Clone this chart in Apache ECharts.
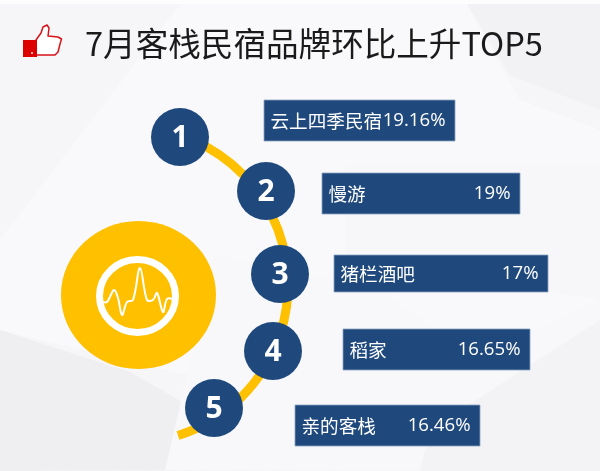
<!DOCTYPE html>
<html><head><meta charset="utf-8">
<style>html,body{margin:0;padding:0;background:#f6f6f8}#c{width:600px;height:471px}</style>
<script src="https://cdn.jsdelivr.net/npm/echarts@6/dist/echarts.min.js"></script>
</head><body><div id="c"></div>
<script>
const chartTitle = '7月客栈民宿品牌环比上升TOP5';
const brands = ['云上四季民宿', '慢游', '猪栏酒吧', '稻家', '亲的客栈'];
const growthPct = [19.16, 19, 17, 16.65, 16.46];
const ranks = [1, 2, 3, 4, 5];

// layout only (pixels), kept apart from the data
const labelBoxes = [[264,100,191,41],[322,173,198,41],[334,255,214,37],[343,329,187,41],[295,405,185,41]];
const badgeCentres = [[180,137],[266,191],[280,274],[273,351],[214,408]];
const NAVY = '#1f497d', GOLD = '#ffc000', CJK = '"Noto Sans CJK SC","Noto Sans",sans-serif';

const bg = (pts, fill) => ({type:'polygon', silent:true, z:-10, shape:{points:pts}, style:{fill}});
const chart = echarts.init(document.getElementById('c'), null, {renderer:'canvas'});
chart.setOption({
  animation:false,
  backgroundColor:'#f6f6f8',
  grid:{left:0,right:0,top:0,bottom:0},
  xAxis:{type:'value',min:0,max:600,show:false},
  yAxis:{type:'value',min:0,max:471,inverse:true,show:false},
  graphic:[
    bg([[0,0],[600,0],[600,4],[0,4]],'#fdfdfe'),
    bg([[180,4],[467,4],[520,100],[600,130],[600,471],[420,471],[250,390],[0,330],[0,240]],'#f9f9fb'),
    bg([[467,4],[600,4],[600,110],[510,75]],'#f2f2f5'),
    bg([[345,165],[345,260],[600,300],[600,165]],'#f7f7f9'),
    bg([[0,330],[130,372],[300,470],[0,471]],'#efeff2'),
    bg([[215,255],[165,470],[600,471],[600,300],[480,360],[380,290]],'#f8f8fa'),
    bg([[420,471],[600,471],[600,320],[430,430]],'#f3f3f6'),
    {type:'arc',silent:true,z:1,shape:{cx:130,cy:285,r:158,startAngle:-71.5*Math.PI/180,endAngle:72.3*Math.PI/180,clockwise:true},
      style:{stroke:GOLD,lineWidth:9,fill:'none'}},
    {type:'ellipse',silent:true,z:1,shape:{cx:138.5,cy:295,rx:77.5,ry:74},style:{fill:GOLD}},
    {type:'ellipse',silent:true,z:2,shape:{cx:137.5,cy:296,rx:38,ry:36.5},style:{fill:'none',stroke:'#fff',lineWidth:7}},
    {type:'polyline',silent:true,z:2,shape:{smooth:0.35,points:[[103,302],[107,302],[114,290],[118,298],[122,315],[127,302],[133,300],[140,268],[147,300],[153,300],[157,293],[163,312],[167,299],[173,299]]},
      style:{fill:'none',stroke:'#fff',lineWidth:2}},
    {type:'polygon',silent:true,z:2,shape:{points:[[36,40],[41,33],[43,27],[47,25],[49,28],[48,36],[58,37],[61.5,39],[60,44],[59,48],[58,52],[55,55],[36,55]]},
      style:{fill:'#fff',stroke:'#d8121a',lineWidth:1.5,lineJoin:'round'}},
    {type:'rect',silent:true,z:3,shape:{x:23,y:40,width:14,height:17},style:{fill:'#dc0000'}},
    {type:'circle',silent:true,z:4,shape:{cx:32,cy:53,r:0.9},style:{fill:'#fff'}},
    {type:'text',silent:true,z:5,x:85,y:44,style:{text:chartTitle,fill:'#1a1a1a',font:'32.6px '+CJK,textAlign:'left',textVerticalAlign:'middle'}}
  ],
  series:[{
    type:'custom',
    coordinateSystem:'cartesian2d',
    clip:false,
    z:5,
    data:brands.map((b,i)=>[i,growthPct[i]]),
    encode:{x:0,y:1},
    renderItem:(params,api)=>{
      const i=api.value(0), box=labelBoxes[i], c=badgeCentres[i];
      const p=api.coord([box[0],box[1]]), q=api.coord([c[0],c[1]]);
      const midY=p[1]+box[3]/2;
      return {type:'group',children:[
        {type:'rect',shape:{x:p[0],y:p[1],width:box[2],height:box[3]},style:{fill:NAVY,stroke:'#8aa3c2',lineWidth:0.8}},
        {type:'text',x:p[0]+6.5,y:midY,style:{text:brands[i],fill:'#fff',font:'18.6px '+CJK,textAlign:'left',textVerticalAlign:'middle'}},
        {type:'text',x:p[0]+box[2]-9.5,y:midY,style:{text:api.value(1)+'%',fill:'#fff',font:'18.6px "Open Sans",'+CJK,textAlign:'right',textVerticalAlign:'middle'}},
        {type:'circle',shape:{cx:q[0],cy:q[1],r:29},style:{fill:NAVY}},
        {type:'text',x:q[0],y:q[1]+1,style:{text:String(ranks[i]),fill:'#fff',font:'bold 30px "Open Sans",sans-serif',textAlign:'center',textVerticalAlign:'middle'}}
      ]};
    }
  }]
});
</script></body></html>
